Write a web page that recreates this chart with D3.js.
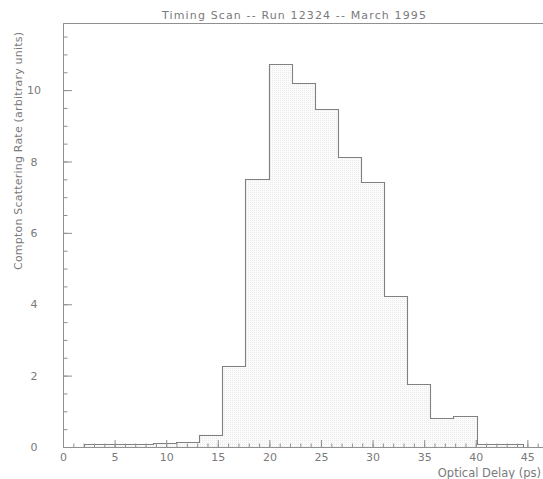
<!DOCTYPE html>
<html>
<head>
<meta charset="utf-8">
<script src="https://cdn.jsdelivr.net/npm/d3@7/dist/d3.min.js"></script>
<style>
  body { margin: 0; background: #fff; }
  text { font-family: "DejaVu Sans", sans-serif; fill: #7a7a7a; }
</style>
</head>
<body>
<svg id="chart" width="543" height="479"></svg>
<script>
// histogram bins: lower edges (last entry is the upper edge of the final bin)
const binEdges = [2.00, 4.24, 6.48, 8.72, 10.96, 13.20, 15.44, 17.68, 19.92, 22.16,
                  24.40, 26.64, 28.88, 31.12, 33.36, 35.60, 37.84, 40.08, 42.32, 44.56];
// compton scattering rate per bin (arbitrary units)
const rates = [0.08, 0.09, 0.09, 0.10, 0.15, 0.35, 2.28, 7.50, 10.72, 10.20,
               9.47, 8.12, 7.42, 4.23, 1.77, 0.81, 0.86, 0.08, 0.08];
const xTicks = [0, 5, 10, 15, 20, 25, 30, 35, 40, 45];
const yTicks = [0, 2, 4, 6, 8, 10];

const title = "Timing Scan -- Run 12324 -- March 1995";
const xTitle = "Optical Delay (ps)";
const yTitle = "Compton Scattering Rate (arbitrary units)";

const svg = d3.select("#chart");

const x = d3.scaleLinear().domain([0, 47]).range([63, 548]);
const y = d3.scaleLinear().domain([0, 11.88]).range([447, 23]);

// very light stipple fill like the original
const defs = svg.append("defs");
const pat = defs.append("pattern")
    .attr("id", "stipple")
    .attr("width", 2).attr("height", 2)
    .attr("patternUnits", "userSpaceOnUse");
pat.append("rect").attr("width", 2).attr("height", 2).attr("fill", "#fbfbfb");
pat.append("rect").attr("width", 1).attr("height", 1).attr("fill", "#ebebeb");

// step outline points
const pts = [[binEdges[0], 0]];
rates.forEach((v, i) => {
    pts.push([binEdges[i], v]);
    pts.push([binEdges[i + 1], v]);
});
pts.push([binEdges[binEdges.length - 1], 0]);

svg.append("path")
    .datum(pts)
    .attr("fill", "url(#stipple)")
    .attr("d", d3.area().x(d => x(d[0])).y0(y(0)).y1(d => y(d[1])));

svg.append("path")
    .datum(pts)
    .attr("fill", "none")
    .attr("stroke", "#808080")
    .attr("stroke-width", 1.1)
    .attr("d", d3.line().x(d => Math.round(x(d[0])) + 0.5).y(d => Math.round(y(d[1])) + 0.5));

// axes: ticks point inward
const xMinor = svg.append("g")
    .attr("transform", `translate(0,${y(0)})`)
    .call(d3.axisBottom(x).tickValues(d3.range(0, 47, 1)).tickSize(-3.5).tickFormat(""));
const xAxis = svg.append("g")
    .attr("transform", `translate(0,${y(0)})`)
    .call(d3.axisBottom(x).tickValues(xTicks).tickSize(-7).tickPadding(6));
const yMinor = svg.append("g")
    .attr("transform", `translate(${x(0)},0)`)
    .call(d3.axisLeft(y).tickValues(d3.range(0, 11.9, 0.5)).tickSize(-4.5).tickFormat(""));
const yAxis = svg.append("g")
    .attr("transform", `translate(${x(0)},0)`)
    .call(d3.axisLeft(y).tickValues(yTicks).tickSize(-9));

[xMinor, xAxis, yMinor, yAxis].forEach(g => {
    g.attr("color", "#909090");
    g.selectAll("text").attr("font-size", 11).attr("font-family", null).attr("fill", null);
});
xMinor.select(".domain").remove();
yMinor.select(".domain").remove();
yAxis.selectAll(".tick text").attr("text-anchor", "middle").attr("x", -29);

// top frame
svg.append("line")
    .attr("x1", x(0) + 0.5).attr("x2", 543)
    .attr("y1", y(11.88) + 0.5).attr("y2", y(11.88) + 0.5)
    .attr("stroke", "#909090");

svg.append("text")
    .attr("x", 294).attr("y", 18.5)
    .attr("text-anchor", "middle")
    .attr("font-size", 11)
    .attr("textLength", 264)
    .attr("lengthAdjust", "spacing")
    .text(title);

svg.append("text")
    .attr("x", 541).attr("y", 477)
    .attr("text-anchor", "end")
    .attr("font-size", 11.5)
    .text(xTitle);

svg.append("text")
    .attr("transform", "translate(22,151) rotate(-90)")
    .attr("text-anchor", "middle")
    .attr("font-size", 11)
    .attr("textLength", 238)
    .attr("lengthAdjust", "spacing")
    .text(yTitle);
</script>
</body>
</html>
